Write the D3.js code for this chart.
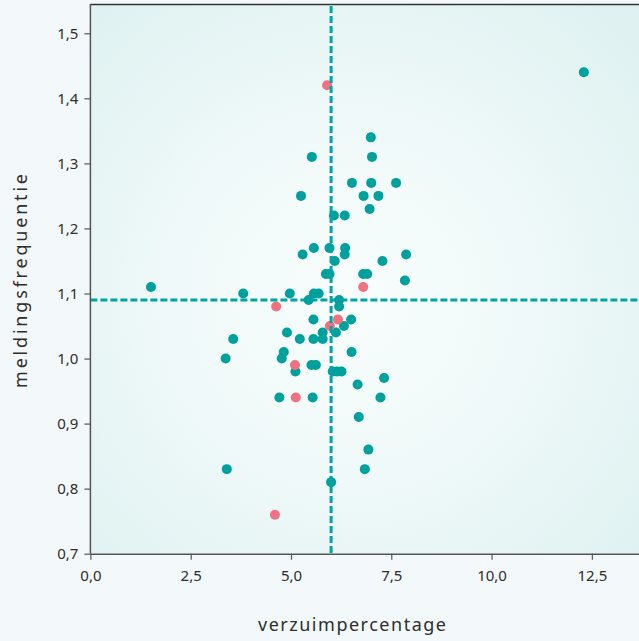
<!DOCTYPE html>
<html><head><meta charset="utf-8">
<script src="https://cdn.jsdelivr.net/npm/d3@7"></script>
<style>
html,body{margin:0;padding:0;background:#f3f8fa;}
svg{display:block;font-family:"Noto Sans",Lato,sans-serif;}
</style></head><body>
<svg id="c" width="639" height="641"></svg>
<script>
const xTicks = [0, 2.5, 5, 7.5, 10, 12.5];
const yTicks = [0.7, 0.8, 0.9, 1.0, 1.1, 1.2, 1.3, 1.4, 1.5];
const refX = 6.0;   // verticale referentielijn
const refY = 1.09;  // horizontale referentielijn

const tealX = [12.30,1.51,3.81,4.97,5.57,5.69,5.44,6.20,6.20,
  5.52,7.02,6.99,6.52,7.00,7.62,5.25,6.81,7.18,6.96,6.07,6.34,
  5.57,5.96,6.35,5.29,6.34,7.87,6.09,7.28,5.87,5.96,6.80,6.90,7.84,
  5.56,6.50,6.32,5.79,6.12,4.90,3.56,5.22,5.56,5.79,4.82,6.51,3.37,4.77,5.11,5.51,5.62,
  6.04,6.15,6.26,7.32,6.66,4.71,5.54,7.23,6.69,6.93,3.40,6.84,6.00];
const tealY = [1.44,1.11,1.10,1.10,1.10,1.10,1.09,1.09,1.08,
  1.31,1.31,1.34,1.27,1.27,1.27,1.25,1.25,1.25,1.23,1.22,1.22,
  1.17,1.17,1.17,1.16,1.16,1.16,1.15,1.15,1.13,1.13,1.13,1.13,1.12,
  1.06,1.06,1.05,1.04,1.04,1.04,1.03,1.03,1.03,1.03,1.01,1.01,1.00,1.00,0.98,0.99,0.99,
  0.98,0.98,0.98,0.97,0.96,0.94,0.94,0.94,0.91,0.86,0.83,0.83,0.81];
const pinkX = [5.90,4.63,6.80,6.17,5.97,5.10,5.12,4.60];
const pinkY = [1.42,1.08,1.11,1.06,1.05,0.99,0.94,0.76];

const L = 90.4, T = 4, B = 553.7, R = 640;
const x = d3.scaleLinear().domain([0, 13.7]).range([L, R]);
const y = d3.scaleLinear().domain([0.7, 1.545]).range([B, T]);
const fmt = d3.format(".1f");
const comma = v => fmt(v).replace(".", ",");

const svg = d3.select("#c");
const defs = svg.append("defs");
const g = defs.append("radialGradient").attr("id","bg").attr("gradientUnits","userSpaceOnUse")
  .attr("cx",350).attr("cy",300).attr("r",380);
g.append("stop").attr("offset","0").attr("stop-color","#f8fdfd");
g.append("stop").attr("offset","0.45").attr("stop-color","#f0f9f9");
g.append("stop").attr("offset","1").attr("stop-color","#dff2f1");

svg.append("rect").attr("x",L).attr("y",T).attr("width",R-L).attr("height",B-T).attr("fill","url(#bg)");

// points
svg.append("g").selectAll("circle").data(tealX.map((v,i)=>[v,tealY[i]])).join("circle")
  .attr("cx",d=>x(d[0])).attr("cy",d=>y(d[1])).attr("r",5).attr("fill","#00a09c");
svg.append("g").selectAll("circle").data(pinkX.map((v,i)=>[v,pinkY[i]])).join("circle")
  .attr("cx",d=>x(d[0])).attr("cy",d=>y(d[1])).attr("r",5).attr("fill","#f0717f");

// reference lines
svg.append("line").attr("x1",x(refX)).attr("x2",x(refX)).attr("y1",T+2).attr("y2",B)
  .attr("stroke","#00a4a6").attr("stroke-width",3).attr("stroke-dasharray","7,3");
svg.append("line").attr("x1",L).attr("x2",R).attr("y1",y(refY)).attr("y2",y(refY))
  .attr("stroke","#00a4a6").attr("stroke-width",3).attr("stroke-dasharray","7,3");

// top border
svg.append("line").attr("x1",L).attr("x2",R).attr("y1",T+0.5).attr("y2",T+0.5).attr("stroke","#333").attr("stroke-width",1.5);

// axes
const xa = svg.append("g").attr("transform",`translate(0,${B})`)
  .call(d3.axisBottom(x).tickValues(xTicks).tickFormat(comma).tickSize(6).tickPadding(11).tickSizeOuter(0));
const ya = svg.append("g").attr("transform",`translate(${L},0)`)
  .call(d3.axisLeft(y).tickValues(yTicks).tickFormat(comma).tickSize(6).tickPadding(6).tickSizeOuter(0));
[xa,ya].forEach(a=>{
  a.select(".domain").attr("stroke","#555").attr("stroke-width",1.5);
  a.selectAll(".tick line").attr("stroke","#555").attr("stroke-width",1.2);
  a.selectAll(".tick text").attr("fill","#2e2e2e").style("font-size","15px").style("font-family","\"Noto Sans\",Lato,sans-serif");
});
ya.select(".domain").attr("d",`M0,${T}V${B}`);

// titles
svg.append("text").attr("x",352).attr("y",631).attr("text-anchor","middle")
  .attr("fill","#2e2e2e").style("font-size","18px").attr("textLength",188).attr("lengthAdjust","spacing")
  .text("verzuimpercentage");
svg.append("text").attr("transform","translate(27,281) rotate(-90)").attr("text-anchor","middle")
  .attr("fill","#2e2e2e").style("font-size","18px").attr("textLength",214).attr("lengthAdjust","spacing")
  .text("meldingsfrequentie");
</script>
</body></html>
